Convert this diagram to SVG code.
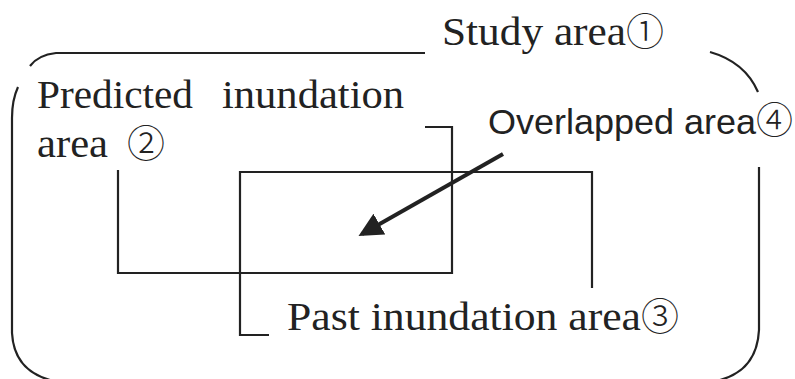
<svg xmlns="http://www.w3.org/2000/svg" width="795" height="379" viewBox="0 0 795 379">
<style>
.ln{fill:none;stroke:#222;stroke-width:2.2;stroke-linecap:butt}
.sf{font-family:"Liberation Serif","DejaVu Serif",serif;font-size:40px;fill:#222}
.ss{font-family:"Liberation Sans","DejaVu Sans",sans-serif;font-size:35px;fill:#222}
.cn{font-family:"Noto Sans CJK JP","Noto Sans CJK SC",sans-serif;font-weight:300}
</style>
<defs>
<marker id="ah" markerWidth="6" markerHeight="6" refX="5" refY="3" orient="auto" markerUnits="strokeWidth">
<path d="M0,0 L6,3 L0,6 Z" fill="#222"/>
</marker>
</defs>
<rect width="795" height="379" fill="#fff"/>
<g id="study-area">
<path class="ln" d="M30,66 Q38,55 56,53 L425,53"/>
<path class="ln" d="M18,87 Q12,100 12,118 L12,333 Q14,370 50,380"/>
<path class="ln" d="M710,52 Q745,62 758,92"/>
<path class="ln" d="M759,167 L759,330 Q757,370 720,380"/>
<text class="sf" y="45"><tspan x="442" textLength="184" lengthAdjust="spacingAndGlyphs">Study area</tspan><tspan class="cn" x="626" font-size="38">①</tspan></text>
</g>
<g id="predicted-area">
<path class="ln" d="M118,170 L118,273 L452,273 L452,127 L425,127"/>
<text class="sf" y="108"><tspan x="37" textLength="156" lengthAdjust="spacingAndGlyphs">Predicted</tspan><tspan x="222" textLength="182" lengthAdjust="spacingAndGlyphs">inundation</tspan></text>
<text class="sf" y="157"><tspan x="37" textLength="71" lengthAdjust="spacingAndGlyphs">area</tspan><tspan class="cn" x="127" font-size="38">②</tspan></text>
</g>
<g id="past-area">
<path class="ln" d="M269,335 L240,335 L240,172 L592,172 L592,288"/>
<text class="sf" y="330"><tspan x="287" textLength="354" lengthAdjust="spacingAndGlyphs">Past inundation area</tspan><tspan class="cn" x="641" font-size="38">③</tspan></text>
</g>
<g id="overlapped-area">
<text class="ss" y="134"><tspan x="488" textLength="268" lengthAdjust="spacingAndGlyphs">Overlapped area</tspan><tspan class="cn" x="756" font-size="37">④</tspan></text>
</g>
<g id="connectors">
<line x1="503" y1="154" x2="362" y2="234" stroke="#222" stroke-width="4" marker-end="url(#ah)"/>
</g>
</svg>
